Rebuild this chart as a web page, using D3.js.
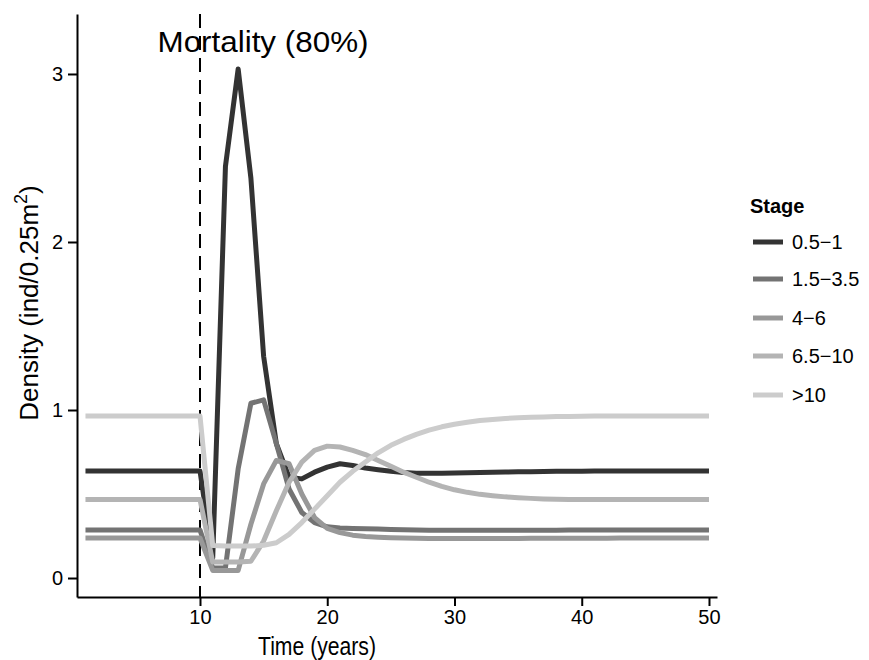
<!DOCTYPE html>
<html>
<head>
<meta charset="utf-8">
<script src="https://cdn.jsdelivr.net/npm/d3@7"></script>
<style>
  html, body { margin: 0; padding: 0; background: #fff; }
  svg { display: block; font-family: "Liberation Sans", Arial, Helvetica, sans-serif; }
</style>
</head>
<body>
<svg id="chart" width="869" height="660"></svg>
<script>
// ---- data ----
const years = [1,2,3,4,5,6,7,8,9,10,11,12,13,14,15,16,17,18,19,20,21,22,23,24,25,26,27,28,29,30,31,32,33,34,35,36,37,38,39,40,41,42,43,44,45,46,47,48,49,50];
const stages = ["0.5\u22121", "1.5\u22123.5", "4\u22126", "6.5\u221210", ">10"];
const stage1 = [0.637,0.637,0.637,0.637,0.637,0.637,0.637,0.637,0.637,0.637,
  0.12,2.45,3.03,2.38,1.32,0.80,0.60,0.59,0.63,0.66,
  0.68,0.67,0.655,0.645,0.635,0.628,0.624,0.623,0.624,0.625,
  0.627,0.628,0.630,0.631,0.632,0.633,0.634,0.635,0.635,0.636,
  0.637,0.637,0.637,0.637,0.637,0.637,0.637,0.637,0.637,0.637];
const stage2 = [0.286,0.286,0.286,0.286,0.286,0.286,0.286,0.286,0.286,0.286,
  0.06,0.06,0.65,1.04,1.06,0.80,0.53,0.39,0.33,0.305,
  0.298,0.295,0.293,0.291,0.289,0.287,0.286,0.285,0.285,0.285,
  0.285,0.285,0.285,0.285,0.285,0.285,0.285,0.285,0.286,0.286,
  0.286,0.286,0.286,0.286,0.286,0.286,0.286,0.286,0.286,0.286];
const stage3 = [0.238,0.238,0.238,0.238,0.238,0.238,0.238,0.238,0.238,0.238,
  0.045,0.045,0.045,0.32,0.56,0.70,0.68,0.50,0.36,0.295,
  0.27,0.255,0.247,0.243,0.240,0.238,0.236,0.235,0.235,0.235,
  0.235,0.235,0.235,0.235,0.235,0.236,0.236,0.236,0.237,0.237,
  0.237,0.237,0.238,0.238,0.238,0.238,0.238,0.238,0.238,0.238];
const stage4 = [0.468,0.468,0.468,0.468,0.468,0.468,0.468,0.468,0.468,0.468,
  0.095,0.095,0.095,0.10,0.22,0.40,0.57,0.69,0.76,0.785,
  0.78,0.76,0.735,0.70,0.665,0.63,0.60,0.57,0.545,0.525,
  0.51,0.498,0.49,0.483,0.478,0.474,0.471,0.469,0.468,0.467,
  0.467,0.467,0.467,0.467,0.468,0.468,0.468,0.468,0.468,0.468];
const stage5 = [0.964,0.964,0.964,0.964,0.964,0.964,0.964,0.964,0.964,0.964,
  0.193,0.19,0.19,0.19,0.195,0.21,0.26,0.33,0.41,0.49,
  0.57,0.635,0.69,0.745,0.79,0.825,0.855,0.88,0.90,0.915,
  0.927,0.937,0.944,0.95,0.954,0.957,0.959,0.961,0.962,0.963,
  0.964,0.964,0.964,0.964,0.964,0.964,0.964,0.964,0.964,0.964];
const seriesValues = [stage1, stage2, stage3, stage4, stage5];
const colors = ["#333333", "#737373", "#989898", "#B4B4B4", "#CCCCCC"];
const xTicks = [10, 20, 30, 40, 50];
const yTicks = [0, 1, 2, 3];
const mortalityYear = 10;
const annotation = "Mortality (80%)";
const xTitle = "Time (years)";
const legendTitle = "Stage";

// ---- scales ----
const svg = d3.select("#chart");
const x = d3.scaleLinear().domain([0.334, 50.63]).range([77, 717]);
const y = d3.scaleLinear().domain([-0.113, 3.357]).range([597, 14]);

// ---- axes ----
const xAxis = d3.axisBottom(x).tickValues(xTicks).tickFormat(d3.format("d"))
  .tickSize(9).tickSizeOuter(0).tickPadding(4);
const gx = svg.append("g").attr("transform", "translate(0,597)").call(xAxis);
const yAxis = d3.axisLeft(y).tickValues(yTicks).tickFormat(d3.format("d"))
  .tickSize(9).tickSizeOuter(0).tickPadding(5);
const gy = svg.append("g").attr("transform", "translate(77,0)").call(yAxis);
[gx, gy].forEach(g => {
  g.select(".domain").attr("stroke", "#000").attr("stroke-width", 2);
  g.selectAll(".tick line").attr("stroke", "#000").attr("stroke-width", 2);
  g.selectAll(".tick text").attr("fill", "#000").style("font-size", "20px")
    .style("font-family", "Liberation Sans, Arial, sans-serif");
});

// ---- mortality line ----
svg.append("line")
  .attr("x1", x(mortalityYear)).attr("x2", x(mortalityYear))
  .attr("y1", y.range()[1]).attr("y2", y.range()[0])
  .attr("stroke", "#000").attr("stroke-width", 2)
  .attr("stroke-dasharray", "14,8");

// ---- lines ----
const line = d3.line().x((d, i) => x(years[i])).y(d => y(d));
seriesValues.forEach((vals, k) => {
  svg.append("path")
    .datum(vals)
    .attr("d", line)
    .attr("fill", "none")
    .attr("stroke", colors[k])
    .attr("stroke-width", 5)
    .attr("stroke-linejoin", "round")
    .attr("stroke-linecap", "butt");
});

// ---- annotation ----
svg.append("text")
  .attr("x", 263).attr("y", 52)
  .attr("text-anchor", "middle")
  .attr("textLength", 211).attr("lengthAdjust", "spacingAndGlyphs")
  .style("font-size", "29px").attr("fill", "#000")
  .text(annotation);

// ---- axis titles ----
svg.append("text")
  .attr("x", 317).attr("y", 655)
  .attr("text-anchor", "middle")
  .attr("textLength", 118).attr("lengthAdjust", "spacingAndGlyphs")
  .style("font-size", "25px").attr("fill", "#000")
  .text(xTitle);

const yt = svg.append("text")
  .attr("transform", "translate(38,303) rotate(-90)")
  .attr("text-anchor", "middle")
  .style("font-size", "26px").attr("fill", "#000");
yt.append("tspan").text("Density (ind/0.25m");
yt.append("tspan").attr("dy", -11).style("font-size", "18px").text("2");
yt.append("tspan").attr("dy", 11).text(")");

// ---- legend ----
svg.append("text")
  .attr("x", 750).attr("y", 213)
  .style("font-size", "20px").style("font-weight", "bold").attr("fill", "#000")
  .text(legendTitle);
const legRows = [242, 279, 318, 356, 395];
const lg = svg.append("g");
stages.forEach((s, k) => {
  lg.append("line")
    .attr("x1", 753).attr("x2", 783)
    .attr("y1", legRows[k]).attr("y2", legRows[k])
    .attr("stroke", colors[k]).attr("stroke-width", 5);
  lg.append("text")
    .attr("x", 792).attr("y", legRows[k])
    .attr("dominant-baseline", "central")
    .style("font-size", "20px").attr("fill", "#000")
    .text(s);
});
</script>
</body>
</html>
